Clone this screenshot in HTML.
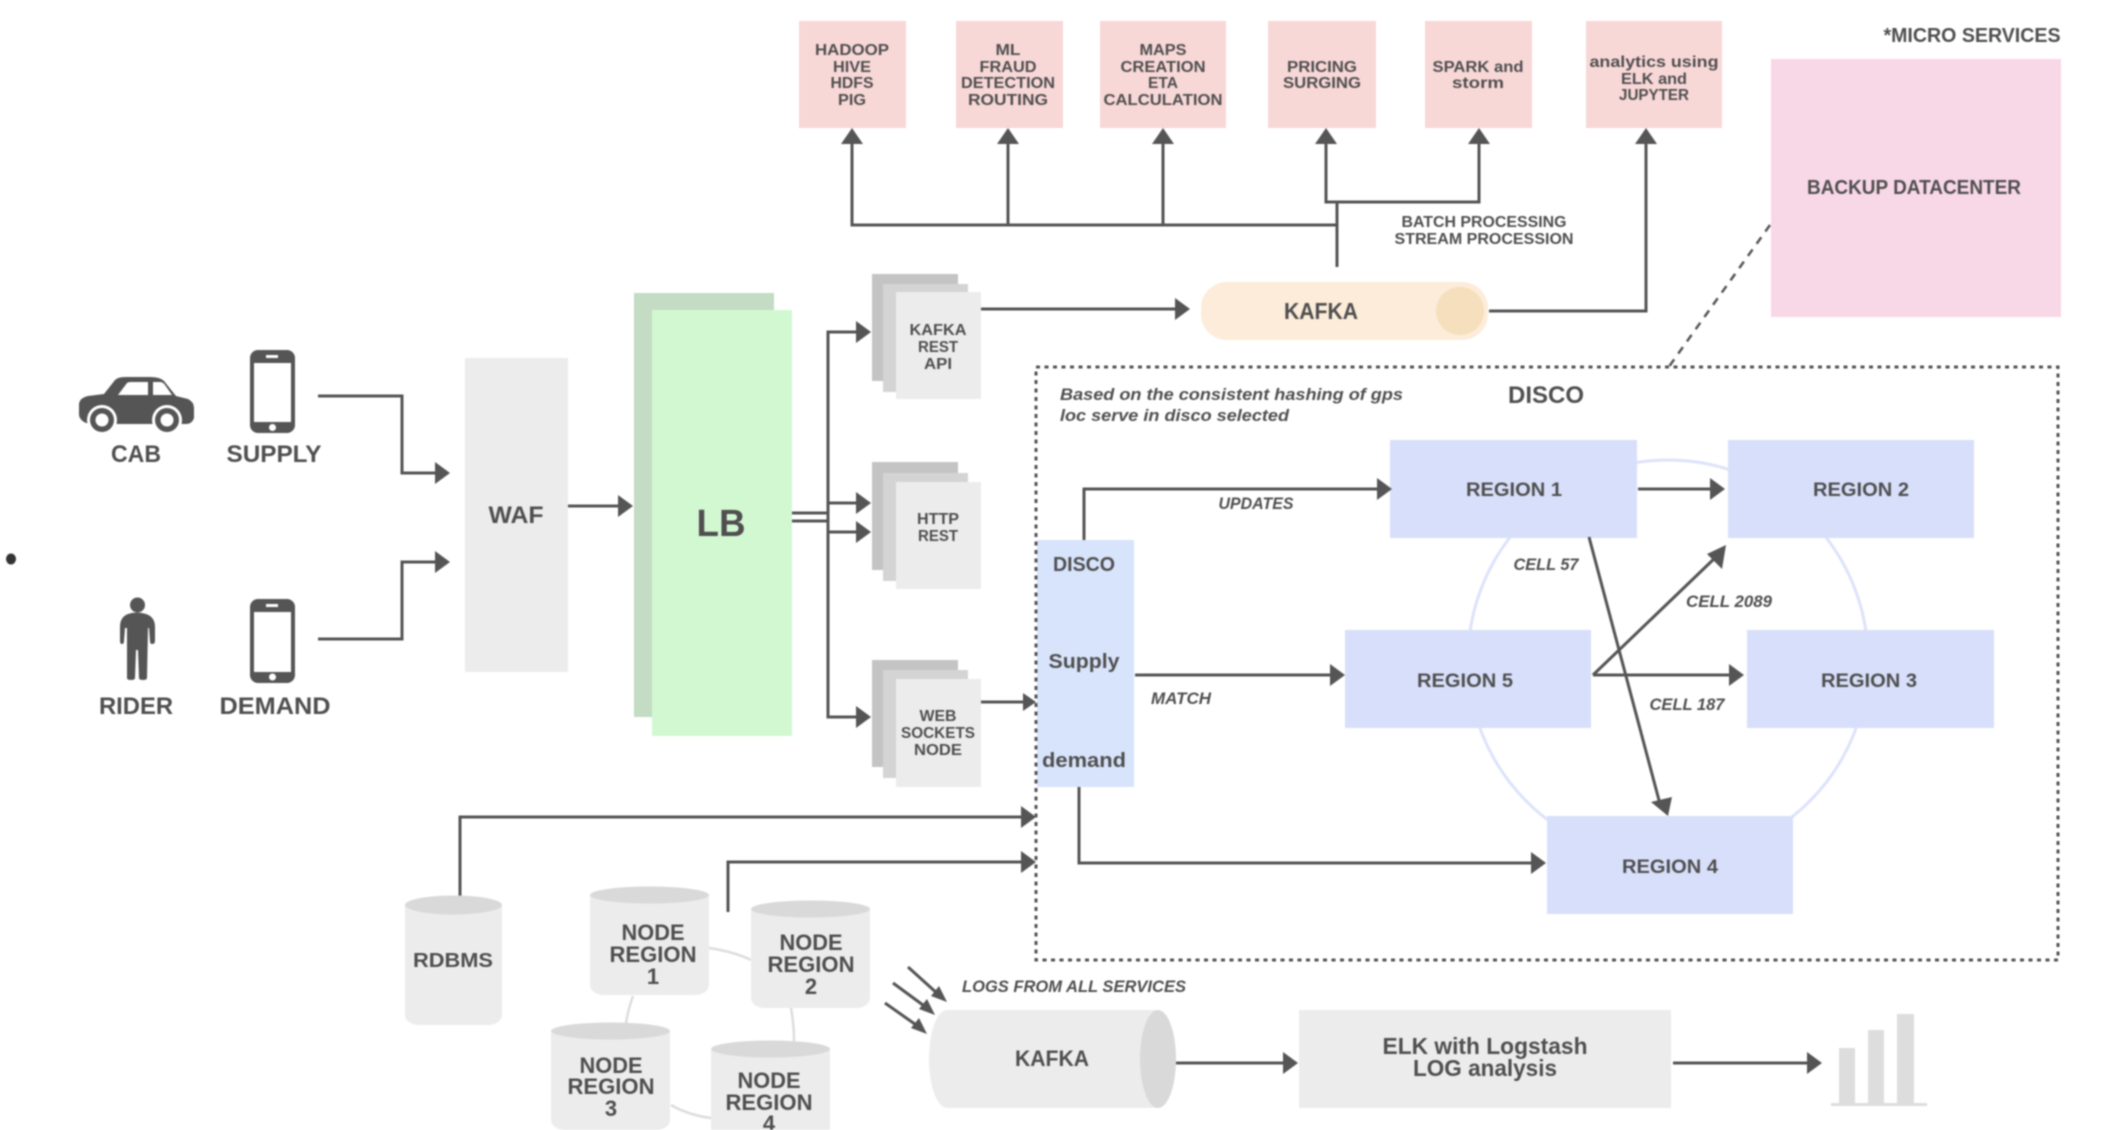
<!DOCTYPE html>
<html lang="en">
<head>
<meta charset="utf-8">
<title>Architecture diagram</title>
<style>
html,body{margin:0;padding:0;background:#fff;width:2106px;height:1130px;overflow:hidden}
svg{display:block;filter:blur(.7px)}
text{font-family:"Liberation Sans",sans-serif;font-weight:700;fill:#4f4f4f;text-anchor:middle;transform:translateY(-.8px)}
.i{font-style:italic}
.s{text-anchor:start}
.ln{fill:none;stroke:#555;stroke-width:3}
.hd{fill:#555;stroke:none}
.ring{fill:none;stroke:#dde3fa;stroke-width:3}
.conn{fill:none;stroke:#ddd;stroke-width:2.5}
.p{fill:#f8d7d7}.r{fill:#d8dffa}
.a{fill:#c4c4c4}.b{fill:#d4d4d4}.c{fill:#ececec}.t{fill:#d9d9d9}
</style>
</head>
<body>
<svg width="2106" height="1130" viewBox="0 0 2106 1130" xmlns="http://www.w3.org/2000/svg">
<ellipse cx="11" cy="559" rx="5" ry="5.5" fill="#333"/>

<!-- car -->
<path fill="#555" d="M79 405Q79 398 88 396L104 394L115 380Q118 377 125 377L150 377Q160 377 164 381L176 396L188 399Q194 402 194 408L194 418Q192 424 186 424L90 424Q80 422 79 415Z"/>
<path fill="#fff" d="M118 395L127 383Q128 382 131 382L148 382L148 395Z"/>
<path fill="#fff" d="M153 382L160 382Q163 382 165 385L172 395L153 395Z"/>
<circle cx="102" cy="420" r="15" fill="#fff"/><circle cx="102" cy="420" r="12" fill="#555"/><circle cx="102" cy="420" r="6.5" fill="#fff"/>
<circle cx="167" cy="420" r="15" fill="#fff"/><circle cx="167" cy="420" r="12" fill="#555"/><circle cx="167" cy="420" r="6.5" fill="#fff"/>
<!-- phones -->
<rect x="250" y="350" width="45" height="83" rx="8" fill="#555"/>
<rect x="254" y="363" width="37" height="59" fill="#fff"/>
<rect x="266" y="355" width="12" height="3" fill="#fff"/>
<circle cx="272.500" cy="427.500" r="3.500" fill="#fff"/>
<rect x="250" y="599" width="45" height="84" rx="8" fill="#555"/>
<rect x="254" y="612" width="37" height="60" fill="#fff"/>
<rect x="266" y="604" width="12" height="3" fill="#fff"/>
<circle cx="272.500" cy="677" r="3.500" fill="#fff"/>
<!-- person -->
<circle cx="137.500" cy="605" r="7.500" fill="#555"/>
<path fill="#555" d="M128 614Q137 611 146 614Q155 617 155 627L155 641Q155 644 152 644Q150 644 150 641L149 628L148 628L147 678Q147 680 143 680Q139 680 139 678L138 650L136 650L135 678Q135 680 131 680Q127 680 127 678L127 628L125 628L124 641Q124 644 122 644Q120 644 120 641L120 627Q120 617 128 614Z"/>

<text x="136" y="463" font-size="24" textLength="50" lengthAdjust="spacingAndGlyphs">CAB</text>
<text x="274" y="463" font-size="24" textLength="95" lengthAdjust="spacingAndGlyphs">SUPPLY</text>
<text x="136" y="715" font-size="24" textLength="74" lengthAdjust="spacingAndGlyphs">RIDER</text>
<text x="275" y="715" font-size="24" textLength="111" lengthAdjust="spacingAndGlyphs">DEMAND</text>

<!-- WAF / LB -->
<rect x="465" y="358" width="103" height="314" class="c"/>
<text x="516" y="524" font-size="24" textLength="55" lengthAdjust="spacingAndGlyphs">WAF</text>
<rect x="634" y="293" width="140" height="424" fill="#c3dcc3"/>
<rect x="652" y="310" width="140" height="426" fill="#d2f8d2"/>
<text x="721" y="537" font-size="38" textLength="49" lengthAdjust="spacingAndGlyphs">LB</text>

<!-- left arrows -->
<path class="ln" d="M318 396H402V473H436"/><polygon class="hd" points="450,473 435,462 435,484"/>
<path class="ln" d="M318 639H402V562H436"/><polygon class="hd" points="450,562 435,551 435,573"/>
<path class="ln" d="M568 506H621"/><polygon class="hd" points="633,506 618,495 618,517"/>
<path class="ln" d="M792 513H828M792 521H828"/>
<path class="ln" d="M858 332H828V717H858M828 503H858M828 532H858"/>
<polygon class="hd" points="871,332 856,321 856,343"/>
<polygon class="hd" points="871,503 856,492 856,514"/>
<polygon class="hd" points="871,532 856,521 856,543"/>
<polygon class="hd" points="871,717 856,706 856,728"/>

<!-- stacks -->
<rect x="872" y="274" width="86" height="107" class="a"/><rect x="883" y="284" width="85" height="108" class="b"/><rect x="896" y="292" width="85" height="107" class="c"/>
<text x="938" y="336" font-size="16" textLength="57" lengthAdjust="spacingAndGlyphs">KAFKA</text>
<text x="938" y="353" font-size="16" textLength="40" lengthAdjust="spacingAndGlyphs">REST</text>
<text x="938" y="370" font-size="16" textLength="28" lengthAdjust="spacingAndGlyphs">API</text>
<rect x="872" y="462" width="86" height="108" class="a"/><rect x="883" y="473" width="85" height="108" class="b"/><rect x="896" y="482" width="85" height="107" class="c"/>
<text x="938" y="525" font-size="16" textLength="42" lengthAdjust="spacingAndGlyphs">HTTP</text>
<text x="938" y="542" font-size="16" textLength="40" lengthAdjust="spacingAndGlyphs">REST</text>
<rect x="872" y="660" width="86" height="107" class="a"/><rect x="883" y="670" width="85" height="108" class="b"/><rect x="896" y="679" width="85" height="108" class="c"/>
<text x="938" y="722" font-size="16" textLength="37" lengthAdjust="spacingAndGlyphs">WEB</text>
<text x="938" y="739" font-size="16" textLength="74" lengthAdjust="spacingAndGlyphs">SOCKETS</text>
<text x="938" y="756" font-size="16" textLength="48" lengthAdjust="spacingAndGlyphs">NODE</text>

<!-- pink boxes -->
<rect x="799" y="21" width="107" height="107" class="p"/>
<rect x="956" y="21" width="107" height="107" class="p"/>
<rect x="1100" y="21" width="126" height="107" class="p"/>
<rect x="1268" y="21" width="108" height="107" class="p"/>
<rect x="1425" y="21" width="107" height="107" class="p"/>
<rect x="1586" y="21" width="136" height="107" class="p"/>
<text x="852" y="56" font-size="16" textLength="74" lengthAdjust="spacingAndGlyphs">HADOOP</text>
<text x="852" y="73" font-size="16" textLength="38" lengthAdjust="spacingAndGlyphs">HIVE</text>
<text x="852" y="89" font-size="16" textLength="43" lengthAdjust="spacingAndGlyphs">HDFS</text>
<text x="852" y="106" font-size="16" textLength="28" lengthAdjust="spacingAndGlyphs">PIG</text>
<text x="1008" y="56" font-size="16" textLength="25" lengthAdjust="spacingAndGlyphs">ML</text>
<text x="1008" y="73" font-size="16" textLength="57" lengthAdjust="spacingAndGlyphs">FRAUD</text>
<text x="1008" y="89" font-size="16" textLength="94" lengthAdjust="spacingAndGlyphs">DETECTION</text>
<text x="1008" y="106" font-size="16" textLength="80" lengthAdjust="spacingAndGlyphs">ROUTING</text>
<text x="1163" y="56" font-size="16" textLength="47" lengthAdjust="spacingAndGlyphs">MAPS</text>
<text x="1163" y="73" font-size="16" textLength="85" lengthAdjust="spacingAndGlyphs">CREATION</text>
<text x="1163" y="89" font-size="16" textLength="30" lengthAdjust="spacingAndGlyphs">ETA</text>
<text x="1163" y="106" font-size="16" textLength="119" lengthAdjust="spacingAndGlyphs">CALCULATION</text>
<text x="1322" y="73" font-size="16" textLength="70" lengthAdjust="spacingAndGlyphs">PRICING</text>
<text x="1322" y="89" font-size="16" textLength="78" lengthAdjust="spacingAndGlyphs">SURGING</text>
<text x="1478" y="73" font-size="16" textLength="91" lengthAdjust="spacingAndGlyphs">SPARK and</text>
<text x="1478" y="89" font-size="16" textLength="52" lengthAdjust="spacingAndGlyphs">storm</text>
<text x="1654" y="68" font-size="16" textLength="129" lengthAdjust="spacingAndGlyphs">analytics using</text>
<text x="1654" y="85" font-size="16" textLength="66" lengthAdjust="spacingAndGlyphs">ELK and</text>
<text x="1654" y="101" font-size="16" textLength="70" lengthAdjust="spacingAndGlyphs">JUPYTER</text>

<text x="1972" y="43" font-size="20" textLength="177" lengthAdjust="spacingAndGlyphs">*MICRO SERVICES</text>
<rect x="1771" y="59" width="290" height="258" fill="#f8d7e6"/>
<text x="1914" y="195" font-size="20" textLength="214" lengthAdjust="spacingAndGlyphs">BACKUP DATACENTER</text>

<!-- top arrows -->
<path class="ln" d="M852 143V225H1337M1008 143V225M1163 143V225"/>
<path class="ln" d="M1337 267V202M1326 143V202H1479V143"/>
<polygon class="hd" points="852,128 841,144 863,144"/>
<polygon class="hd" points="1008,128 997,144 1019,144"/>
<polygon class="hd" points="1163,128 1152,144 1174,144"/>
<polygon class="hd" points="1326,128 1315,144 1337,144"/>
<polygon class="hd" points="1479,128 1468,144 1490,144"/>
<polygon class="hd" points="1646,128 1635,144 1657,144"/>
<text x="1484" y="228" font-size="16" textLength="165" lengthAdjust="spacingAndGlyphs">BATCH PROCESSING</text>
<text x="1484" y="245" font-size="16" textLength="179" lengthAdjust="spacingAndGlyphs">STREAM PROCESSION</text>

<!-- kafka orange -->
<rect x="1201" y="282" width="287" height="58" rx="26" ry="26" fill="#fcecd9"/>
<ellipse cx="1460" cy="311" rx="24" ry="24" fill="#f5dfbc"/>
<text x="1321" y="320" font-size="23" textLength="74" lengthAdjust="spacingAndGlyphs">KAFKA</text>
<path class="ln" d="M981 309H1176"/><polygon class="hd" points="1190,309 1175,298 1175,320"/>
<path class="ln" d="M1489 311H1646V143"/>

<!-- dashed connector -->
<path d="M1770 225L1668 368" fill="none" stroke="#555" stroke-width="2.500" stroke-dasharray="8 7"/>

<circle cx="1668" cy="660" r="200" class="ring"/>
<rect x="1037" y="540" width="97" height="247" fill="#d8e4fb"/>
<rect x="1390" y="440" width="247" height="98" class="r"/>
<rect x="1728" y="440" width="246" height="98" class="r"/>
<rect x="1345" y="630" width="246" height="98" class="r"/>
<rect x="1747" y="630" width="247" height="98" class="r"/>
<rect x="1547" y="816" width="246" height="98" class="r"/>
<!-- disco frame -->
<rect x="1036" y="367" width="1022" height="593" fill="none" stroke="#555" stroke-width="3" stroke-dasharray="4 4.500"/>

<text class="i s" x="1060" y="401" font-size="17" textLength="343" lengthAdjust="spacingAndGlyphs">Based on the consistent hashing of gps</text>
<text class="i s" x="1060" y="422" font-size="17" textLength="229" lengthAdjust="spacingAndGlyphs">loc serve in disco selected</text>
<text x="1546" y="404" font-size="24" textLength="76" lengthAdjust="spacingAndGlyphs">DISCO</text>
<text x="1084" y="572" font-size="20" textLength="62" lengthAdjust="spacingAndGlyphs">DISCO</text>
<text x="1084" y="669" font-size="20" textLength="71" lengthAdjust="spacingAndGlyphs">Supply</text>
<text x="1084" y="768" font-size="20" textLength="84" lengthAdjust="spacingAndGlyphs">demand</text>
<text x="1514" y="497" font-size="19" textLength="96" lengthAdjust="spacingAndGlyphs">REGION 1</text>
<text x="1861" y="497" font-size="19" textLength="96" lengthAdjust="spacingAndGlyphs">REGION 2</text>
<text x="1465" y="688" font-size="19" textLength="96" lengthAdjust="spacingAndGlyphs">REGION 5</text>
<text x="1869" y="688" font-size="19" textLength="96" lengthAdjust="spacingAndGlyphs">REGION 3</text>
<text x="1670" y="874" font-size="19" textLength="96" lengthAdjust="spacingAndGlyphs">REGION 4</text>
<text class="i" x="1256" y="510" font-size="17" textLength="75" lengthAdjust="spacingAndGlyphs">UPDATES</text>
<text class="i" x="1181" y="705" font-size="17" textLength="60" lengthAdjust="spacingAndGlyphs">MATCH</text>
<text class="i" x="1546" y="571" font-size="17" textLength="65" lengthAdjust="spacingAndGlyphs">CELL 57</text>
<text class="i" x="1729" y="608" font-size="17" textLength="86" lengthAdjust="spacingAndGlyphs">CELL 2089</text>
<text class="i" x="1687" y="711" font-size="17" textLength="75" lengthAdjust="spacingAndGlyphs">CELL 187</text>

<!-- disco arrows -->
<path class="ln" d="M1084 540V489H1378"/><polygon class="hd" points="1392,489 1377,478 1377,500"/>
<path class="ln" d="M1638 489H1712"/><polygon class="hd" points="1725,489 1710,478 1710,500"/>
<path class="ln" d="M1135 675H1331"/><polygon class="hd" points="1345,675 1330,664 1330,686"/>
<path class="ln" d="M1593 675H1730"/><polygon class="hd" points="1744,675 1729,664 1729,686"/>
<path class="ln" d="M1593 675L1717 556"/><polygon class="hd" points="1726,545 1707,554 1722,569"/>
<path class="ln" d="M1589 537L1660 804"/><polygon class="hd" points="1668,816 1651,802 1672,797"/>
<path class="ln" d="M1079 787V863H1532"/><polygon class="hd" points="1546,863 1531,852 1531,874"/>
<path class="ln" d="M981 702H1024"/><polygon class="hd" points="1036,702 1023,693 1023,711"/>

<!-- db arrows -->
<path class="ln" d="M460 896V817H1022"/><polygon class="hd" points="1036,817 1021,806 1021,828"/>
<path class="ln" d="M728 912V862H1022"/><polygon class="hd" points="1036,862 1021,851 1021,873"/>

<!-- connectors between nodes -->
<path class="conn" d="M709 948Q735 952 751 960M633 996Q628 1010 626 1023M791 1008Q794 1025 794 1041M671 1105Q688 1115 711 1118"/>

<!-- RDBMS -->
<rect x="405" y="905" width="97" height="120" rx="14" ry="10" class="c"/>
<rect x="405" y="905" width="97" height="60" class="c"/>
<ellipse cx="453.500" cy="905" rx="48.500" ry="9.500" class="t"/>
<text x="453" y="968" font-size="20" textLength="80" lengthAdjust="spacingAndGlyphs">RDBMS</text>
<!-- nodes -->
<rect x="590" y="895" width="119" height="100" rx="14" ry="10" class="c"/><rect x="590" y="895" width="119" height="50" class="c"/>
<ellipse cx="649.500" cy="895" rx="59.500" ry="8.500" class="t"/>
<text x="653" y="941" font-size="22" textLength="63" lengthAdjust="spacingAndGlyphs">NODE</text>
<text x="653" y="963" font-size="22" textLength="87" lengthAdjust="spacingAndGlyphs">REGION</text>
<text x="653" y="985" font-size="22">1</text>
<rect x="751" y="909" width="119" height="99" rx="14" ry="10" class="c"/><rect x="751" y="909" width="119" height="50" class="c"/>
<ellipse cx="810.500" cy="909" rx="59.500" ry="8.500" class="t"/>
<text x="811" y="951" font-size="22" textLength="63" lengthAdjust="spacingAndGlyphs">NODE</text>
<text x="811" y="973" font-size="22" textLength="87" lengthAdjust="spacingAndGlyphs">REGION</text>
<text x="811" y="995" font-size="22">2</text>
<rect x="551" y="1031" width="119" height="99" rx="14" ry="10" class="c"/><rect x="551" y="1031" width="119" height="50" class="c"/>
<ellipse cx="610.500" cy="1031" rx="59.500" ry="8.500" class="t"/>
<text x="611" y="1074" font-size="22" textLength="63" lengthAdjust="spacingAndGlyphs">NODE</text>
<text x="611" y="1095" font-size="22" textLength="87" lengthAdjust="spacingAndGlyphs">REGION</text>
<text x="611" y="1117" font-size="22">3</text>
<rect x="711" y="1049" width="119" height="81" class="c"/>
<ellipse cx="770.500" cy="1049" rx="59.500" ry="8.500" class="t"/>
<text x="769" y="1089" font-size="22" textLength="63" lengthAdjust="spacingAndGlyphs">NODE</text>
<text x="769" y="1111" font-size="22" textLength="87" lengthAdjust="spacingAndGlyphs">REGION</text>
<text x="769" y="1132" font-size="22">4</text>

<!-- log arrows -->
<path class="ln" d="M908 967L939 995M893 983L927 1008M885 1003L919 1027"/>
<polygon class="hd" points="947,1002 931,996 939,986"/>
<polygon class="hd" points="935,1015 919,1009 927,999"/>
<polygon class="hd" points="927,1034 911,1028 919,1018"/>
<text class="i s" x="962" y="993" font-size="17" textLength="224" lengthAdjust="spacingAndGlyphs">LOGS FROM ALL SERVICES</text>

<!-- kafka gray -->
<path class="c" d="M947 1010H1158V1108H947A18 49 0 0 1 947 1010Z"/>
<ellipse cx="1158" cy="1059" rx="18" ry="49" class="t"/>
<text x="1052" y="1067" font-size="22" textLength="74" lengthAdjust="spacingAndGlyphs">KAFKA</text>
<path class="ln" d="M1176 1063H1284"/><polygon class="hd" points="1298,1063 1283,1052 1283,1074"/>
<rect x="1299" y="1010" width="372" height="98" class="c"/>
<text x="1485" y="1055" font-size="23" textLength="205" lengthAdjust="spacingAndGlyphs">ELK with Logstash</text>
<text x="1485" y="1077" font-size="23" textLength="144" lengthAdjust="spacingAndGlyphs">LOG analysis</text>
<path class="ln" d="M1673 1063H1808"/><polygon class="hd" points="1822,1063 1807,1052 1807,1074"/>
<!-- bars -->
<rect x="1839" y="1048" width="16" height="57" fill="#ddd"/>
<rect x="1868" y="1030" width="16" height="75" fill="#ddd"/>
<rect x="1897" y="1014" width="17" height="91" fill="#ddd"/>
<rect x="1831" y="1103" width="96" height="3" fill="#ddd"/>
</svg>
</body>
</html>
